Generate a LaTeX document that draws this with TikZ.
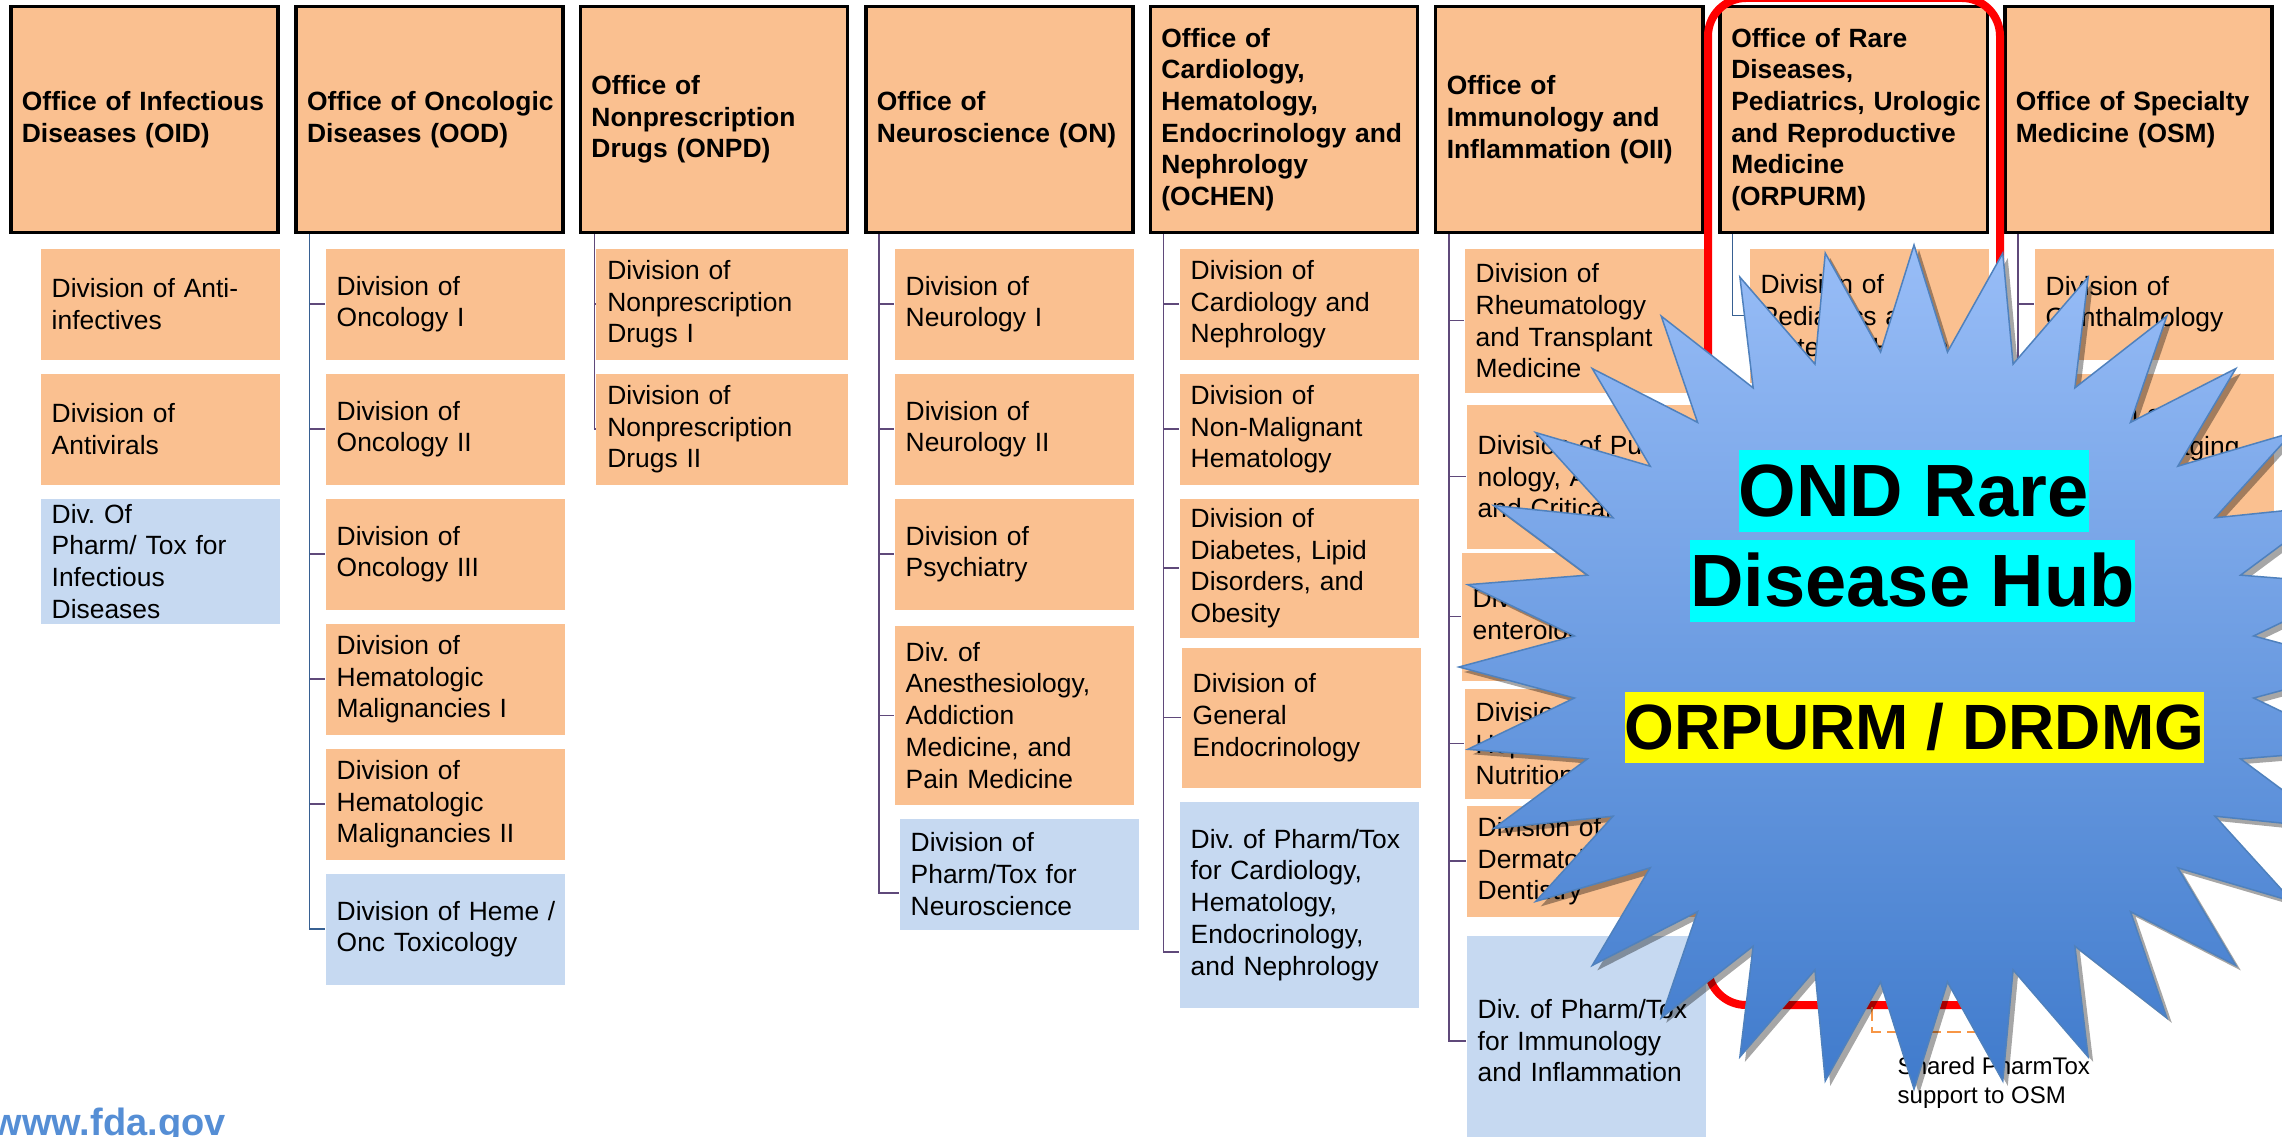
\documentclass[tikz,border=0pt]{standalone}
\usepackage{fontspec}
\setmainfont{Liberation Sans}
\frenchspacing
\definecolor{peachfill}{RGB}{250,192,144}
\definecolor{toxfill}{RGB}{198,217,241}
\definecolor{connline}{RGB}{95,73,122}
\definecolor{connblue}{RGB}{55,96,146}
\definecolor{starTop}{RGB}{152,189,247}
\definecolor{starBot}{RGB}{64,123,204}
\definecolor{starLine}{RGB}{79,129,189}
\definecolor{shareOrange}{RGB}{247,150,70}
\definecolor{fdaBlue}{RGB}{85,142,213}
\definecolor{hubRed}{RGB}{255,0,0}
\definecolor{hubCyan}{RGB}{0,255,255}
\definecolor{hubYellow}{RGB}{255,255,0}
\newcommand{\orgfont}{\fontsize{7.51pt}{9.02pt}\selectfont\hyphenpenalty=10000\exhyphenpenalty=10000}
\newcommand{\hubfont}{\fontsize{21.06pt}{25pt}\selectfont\bfseries}
\newcommand{\drdmgfont}{\fontsize{18.2pt}{22pt}\selectfont\bfseries}
\newcommand{\sharefont}{\fontsize{6.83pt}{8.25pt}\selectfont}
\newcommand{\fdafont}{\fontsize{10.8pt}{13pt}\selectfont\bfseries}
\begin{document}
\begin{tikzpicture}[x=0.01cm, y=-0.01cm,
	office/.style={draw=black, line width=0.035cm, fill=peachfill, minimum width=2.67cm, minimum height=2.26cm, text width=2.57cm, inner xsep=0.05cm, inner ysep=0pt, align=left, font=\orgfont\bfseries},
	divbox/.style={fill=peachfill, anchor=north west, text width=2.29cm, inner xsep=0.05cm, inner ysep=0pt, minimum height=1.11cm, align=left, font=\orgfont},
	pharmtox/.style={divbox, fill=toxfill},
	conn/.style={connline, line width=0.015cm},
	highlight/.style={anchor=north west, inner sep=0pt, font=\hubfont, text height=0.67cm, text depth=0.157cm}]
	\useasboundingbox[fill=white] (0,0) rectangle (2282,1137);
	% offices
	\node (oid) [office] at (144.5,119.5) {\hspace*{0.06cm}Office of Infectious\\\hspace*{0.06cm}Diseases (OID)};
	\node (ood) [office] at (429.6,119.5) {\hspace*{0.06cm}Office of Oncologic\\\hspace*{0.06cm}Diseases (OOD)};
	\node (onpd) [office] at (714,119.5) {\hspace*{0.06cm}Office of\\\hspace*{0.06cm}Nonprescription\\\hspace*{0.06cm}Drugs (ONPD)};
	\node (on) [office] at (999.5,119.5) {\hspace*{0.06cm}Office of\\\hspace*{0.06cm}Neuroscience (ON)};
	\node (ochen) [office] at (1284,119.5) {\hspace*{0.06cm}Office of\\\hspace*{0.06cm}Cardiology,\\\hspace*{0.06cm}Hematology,\\\hspace*{0.06cm}Endocrinology and\\\hspace*{0.06cm}Nephrology\\\hspace*{0.06cm}(OCHEN)};
	\node (oii) [office] at (1569.3,119.5) {\hspace*{0.06cm}Office of\\\hspace*{0.06cm}Immunology and\\\hspace*{0.06cm}Inflammation (OII)};
	\node (orpurm) [office] at (1853.8,119.5) {\hspace*{0.06cm}Office of Rare\\\hspace*{0.06cm}Diseases,\\\hspace*{0.06cm}Pediatrics, Urologic\\\hspace*{0.06cm}and Reproductive\\\hspace*{0.06cm}Medicine\\\hspace*{0.06cm}(ORPURM)};
	\node (osm) [office] at (2138.5,119.5) {\hspace*{0.06cm}Office of Specialty\\\hspace*{0.06cm}Medicine (OSM)};
	% divisions
	\node (oid1) [divbox] at (40,248) {\hspace*{0.06cm}Division of Anti-\\\hspace*{0.06cm}infectives};
	\node (oid2) [divbox] at (40,373) {\hspace*{0.06cm}Division of\\\hspace*{0.06cm}Antivirals};
	\node (oid3) [pharmtox, minimum height=1.25cm] at (40,498) {\hspace*{0.06cm}Div. Of\\\hspace*{0.06cm}Pharm/ Tox for\\\hspace*{0.06cm}Infectious\\\hspace*{0.06cm}Diseases};
	\node (ood1) [divbox] at (325,248) {\hspace*{0.06cm}Division of\\\hspace*{0.06cm}Oncology I};
	\node (ood2) [divbox] at (325,373) {\hspace*{0.06cm}Division of\\\hspace*{0.06cm}Oncology II};
	\node (ood3) [divbox] at (325,498) {\hspace*{0.06cm}Division of\\\hspace*{0.06cm}Oncology III};
	\node (ood4) [divbox] at (325,623) {\hspace*{0.06cm}Division of\\\hspace*{0.06cm}Hematologic\\\hspace*{0.06cm}Malignancies I};
	\node (ood5) [divbox] at (325,748) {\hspace*{0.06cm}Division of\\\hspace*{0.06cm}Hematologic\\\hspace*{0.06cm}Malignancies II};
	\node (ood6) [pharmtox] at (325,873) {\hspace*{0.06cm}Division of Heme /\\\hspace*{0.06cm}Onc Toxicology};
	\node (onpd1) [divbox, text width=2.42cm] at (595.6,248) {\hspace*{0.06cm}Division of\\\hspace*{0.06cm}Nonprescription\\\hspace*{0.06cm}Drugs I};
	\node (onpd2) [divbox, text width=2.42cm] at (595.6,373) {\hspace*{0.06cm}Division of\\\hspace*{0.06cm}Nonprescription\\\hspace*{0.06cm}Drugs II};
	\node (on1) [divbox] at (894,248) {\hspace*{0.06cm}Division of\\\hspace*{0.06cm}Neurology I};
	\node (on2) [divbox] at (894,373) {\hspace*{0.06cm}Division of\\\hspace*{0.06cm}Neurology II};
	\node (on3) [divbox] at (894,498) {\hspace*{0.06cm}Division of\\\hspace*{0.06cm}Psychiatry};
	\node (on4) [divbox, minimum height=1.79cm] at (894,625) {\hspace*{0.06cm}Div. of\\\hspace*{0.06cm}Anesthesiology,\\\hspace*{0.06cm}Addiction\\\hspace*{0.06cm}Medicine, and\\\hspace*{0.06cm}Pain Medicine};
	\node (on5) [pharmtox] at (899,818) {\hspace*{0.06cm}Division of\\\hspace*{0.06cm}Pharm/Tox for\\\hspace*{0.06cm}Neuroscience};
	\node (och1) [divbox] at (1179,248) {\hspace*{0.06cm}Division of\\\hspace*{0.06cm}Cardiology and\\\hspace*{0.06cm}Nephrology};
	\node (och2) [divbox] at (1179,373) {\hspace*{0.06cm}Division of\\\hspace*{0.06cm}Non-Malignant\\\hspace*{0.06cm}Hematology};
	\node (och3) [divbox, minimum height=1.39cm] at (1179,498) {\hspace*{0.06cm}Division of\\\hspace*{0.06cm}Diabetes, Lipid\\\hspace*{0.06cm}Disorders, and\\\hspace*{0.06cm}Obesity};
	\node (och4) [divbox, minimum height=1.40cm] at (1181,647) {\hspace*{0.06cm}Division of\\\hspace*{0.06cm}General\\\hspace*{0.06cm}Endocrinology};
	\node (och5) [pharmtox, minimum height=2.06cm] at (1179,801) {\hspace*{0.06cm}Div. of Pharm/Tox\\\hspace*{0.06cm}for Cardiology,\\\hspace*{0.06cm}Hematology,\\\hspace*{0.06cm}Endocrinology,\\\hspace*{0.06cm}and Nephrology};
	\node (oii1) [divbox, minimum height=1.44cm] at (1464,248) {\hspace*{0.06cm}Division of\\\hspace*{0.06cm}Rheumatology\\\hspace*{0.06cm}and Transplant\\\hspace*{0.06cm}Medicine};
	\node (oii2) [divbox, minimum height=1.44cm] at (1466,404) {\hspace*{0.06cm}Division of Pulmo-\\\hspace*{0.06cm}nology, Allergy,\\\hspace*{0.06cm}and Critical Care};
	\node (oii3) [divbox, minimum height=1.28cm] at (1461,552) {\hspace*{0.06cm}Division of Gastro-\\\hspace*{0.06cm}enterology};
	\node (oii4) [divbox, minimum height=1.10cm] at (1464,688) {\hspace*{0.06cm}Division of\\\hspace*{0.06cm}Hepatology and\\\hspace*{0.06cm}Nutrition};
	\node (oii5) [divbox] at (1466,805) {\hspace*{0.06cm}Division of\\\hspace*{0.06cm}Dermatology and\\\hspace*{0.06cm}Dentistry};
	\node (oii6) [pharmtox, minimum height=2.10cm] at (1466,935) {\hspace*{0.06cm}Div. of Pharm/Tox\\\hspace*{0.06cm}for Immunology\\\hspace*{0.06cm}and Inflammation};
	\node (orp1) [divbox, minimum height=1.34cm] at (1749,248) {\hspace*{0.06cm}Division of\\\hspace*{0.06cm}Pediatrics and\\\hspace*{0.06cm}Maternal Health};
	\node (osm1) [divbox] at (2034,248) {\hspace*{0.06cm}Division of\\\hspace*{0.06cm}Ophthalmology};
	\node (osm2) [divbox, minimum height=1.44cm] at (2034,373) {\hspace*{0.06cm}Division of\\\hspace*{0.06cm}Medical Imaging\\\hspace*{0.06cm}Products};
	% connectors
	\draw[conn] ([xshift=0.15cm]ood.south west) |- (ood1.west);
	\draw[conn] ([xshift=0.15cm]ood.south west) |- (ood2.west);
	\draw[conn] ([xshift=0.15cm]ood.south west) |- (ood3.west);
	\draw[conn] ([xshift=0.15cm]ood.south west) |- (ood4.west);
	\draw[conn] ([xshift=0.15cm]ood.south west) |- (ood5.west);
	\draw[conn, connblue] ([xshift=0.15cm]ood.south west) |- (ood6.west);
	\draw[conn] ([xshift=0.16cm]onpd.south west) |- (onpd1.west);
	\draw[conn] ([xshift=0.16cm]onpd.south west) |- (onpd2.west);
	\draw[conn] ([xshift=0.15cm]on.south west) |- (on1.west);
	\draw[conn] ([xshift=0.15cm]on.south west) |- (on2.west);
	\draw[conn] ([xshift=0.15cm]on.south west) |- (on3.west);
	\draw[conn] ([xshift=0.15cm]on.south west) |- (on4.west);
	\draw[conn] ([xshift=0.15cm]on.south west) |- ([yshift=-0.19cm]on5.west);
	\draw[conn] ([xshift=0.15cm]ochen.south west) |- (och1.west);
	\draw[conn] ([xshift=0.15cm]ochen.south west) |- (och2.west);
	\draw[conn] ([xshift=0.15cm]ochen.south west) |- (och3.west);
	\draw[conn] ([xshift=0.15cm]ochen.south west) |- (och4.west);
	\draw[conn] ([xshift=0.15cm]ochen.south west) |- ([yshift=-0.47cm]och5.west);
	\draw[conn] ([xshift=0.15cm]oii.south west) |- (oii1.west);
	\draw[conn] ([xshift=0.15cm]oii.south west) |- (oii2.west);
	\draw[conn] ([xshift=0.15cm]oii.south west) |- (oii3.west);
	\draw[conn] ([xshift=0.15cm]oii.south west) |- (oii4.west);
	\draw[conn] ([xshift=0.15cm]oii.south west) |- (oii5.west);
	\draw[conn] ([xshift=0.15cm]oii.south west) |- (oii6.west);
	\draw[conn, connblue] ([xshift=0.14cm]orpurm.south west) |- (orp1.west);
	\draw[conn] ([xshift=0.15cm]osm.south west) |- (osm1.west);
	\draw[conn] ([xshift=0.15cm]osm.south west) |- (osm2.west);
	% hub outline and shared pharm/tox
	\draw[hubRed, line width=0.08cm, rounded corners=0.38cm] (1708,-2) rectangle (2000,1005);
	\coordinate (shareA) at (1872,1007);
	\coordinate (shareB) at (1990,1032);
	\draw[shareOrange, line width=0.02cm, dash pattern=on 0.14cm off 0.06cm] (shareA) |- (shareB);
	\node (shareNote) [anchor=north west, inner sep=0pt, align=left, font=\sharefont] at (1897,1056) {Shared PharmTox\\support to OSM};
	\node (fdaweb) [anchor=base west, inner sep=0pt, text=fdaBlue, font=\fdafont] at (-8,1135) {www.fda.gov};
	% star
	\fill[black, opacity=0.35, xshift=0.05cm, yshift=-0.05cm] plot[variable=\k, samples at={0,...,63}] ({1914+(mod(\k,2)==0 ? 455 : 341.25)*cos(90+5.625*\k)}, {667-(mod(\k,2)==0 ? 422 : 316.5)*sin(90+5.625*\k)}) -- cycle;
	\shadedraw[top color=starTop, bottom color=starBot, draw=starLine, line width=0.015cm] plot[variable=\k, samples at={0,...,63}] ({1914+(mod(\k,2)==0 ? 455 : 341.25)*cos(90+5.625*\k)}, {667-(mod(\k,2)==0 ? 422 : 316.5)*sin(90+5.625*\k)}) -- cycle;
	\node (hubA) [highlight, fill=hubCyan] at (1738,449) {OND Rare\ };
	\node (hubB) [highlight, fill=hubCyan] at (1689.6,539) {Disease Hub};
	\node (hubC) [highlight, anchor=north east, fill=hubYellow, font=\drdmgfont, text height=0.579cm, text depth=0.136cm] at (2205,691) {ORPURM / DRDMG};
\end{tikzpicture}
\end{document}
